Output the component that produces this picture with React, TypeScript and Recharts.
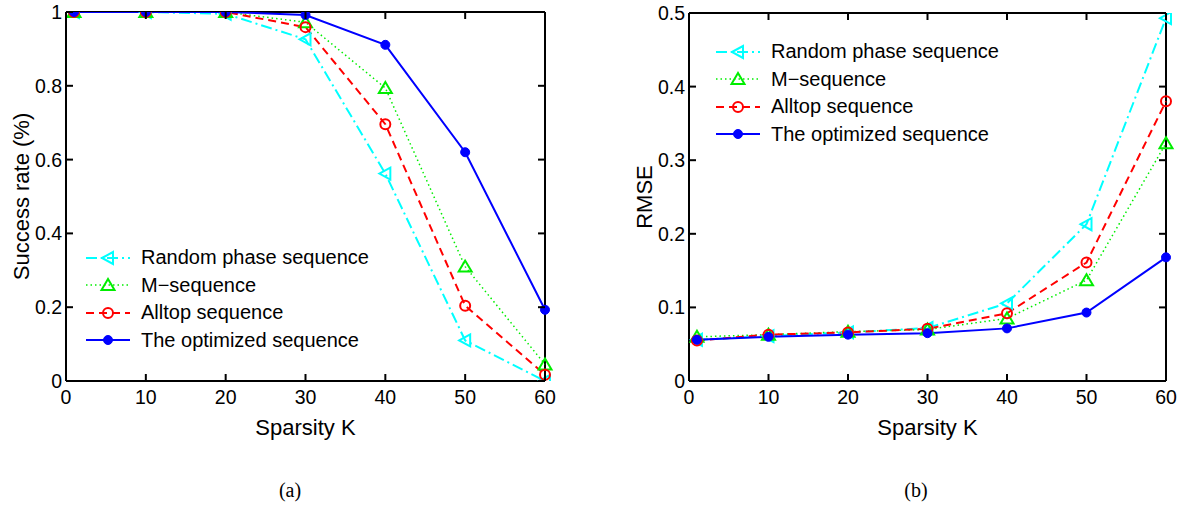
import React from 'react';
import { LineChart, Line, XAxis, YAxis, Legend, ReferenceLine } from 'recharts';

// Sparsity K on the x axis
const sparsity = [1, 10, 20, 30, 40, 50, 60];

// (a) success rate
const successRandom = [1, 1, 0.995, 0.926, 0.562, 0.11, 0];
const successMseq = [1, 1, 1, 0.972, 0.794, 0.31, 0.045];
const successAlltop = [1, 1, 1, 0.959, 0.696, 0.204, 0.017];
const successOptimized = [1, 1, 1, 0.992, 0.911, 0.62, 0.193];

// (b) RMSE
const rmseRandom = [0.056, 0.061, 0.066, 0.072, 0.1055, 0.213, 0.493];
const rmseMseq = [0.06, 0.063, 0.067, 0.07, 0.085, 0.137, 0.323];
const rmseAlltop = [0.055, 0.063, 0.066, 0.071, 0.092, 0.161, 0.38];
const rmseOptimized = [0.056, 0.06, 0.063, 0.065, 0.0715, 0.093, 0.168];

const xTicks = [0, 10, 20, 30, 40, 50, 60];
const xTickLabels = ['0', '10', '20', '30', '40', '50', '60'];
const successTicks = [0, 0.2, 0.4, 0.6, 0.8, 1];
const successTickLabels = ['0', '0.2', '0.4', '0.6', '0.8', '1'];
const rmseTicks = [0, 0.1, 0.2, 0.3, 0.4, 0.5];
const rmseTickLabels = ['0', '0.1', '0.2', '0.3', '0.4', '0.5'];

const seriesNames = ['Random phase sequence', 'M\u2212sequence', 'Alltop sequence', 'The optimized sequence'];

const SERIES = [
  { key: 'random', color: '#00ffff', dash: '11 4 2 4', width: 2, marker: 'left' },
  { key: 'mseq', color: '#00ee00', dash: '1.5 3', width: 1.5, marker: 'up' },
  { key: 'alltop', color: '#ff0000', dash: '8 5', width: 2, marker: 'circle' },
  { key: 'opt', color: '#0000ff', dash: undefined, width: 2, marker: 'dot' },
];

const FONT = '"Liberation Sans", Arial, Helvetica, sans-serif';

const buildRows = (cols: number[][]) =>
  sparsity.map((k, i) => ({
    k,
    random: cols[0][i],
    mseq: cols[1][i],
    alltop: cols[2][i],
    opt: cols[3][i],
  }));

const successData = buildRows([successRandom, successMseq, successAlltop, successOptimized]);
const rmseData = buildRows([rmseRandom, rmseMseq, rmseAlltop, rmseOptimized]);

function Marker({ kind, cx, cy, color }: any) {
  if (cx == null || cy == null) return <g />;
  if (kind === 'left')
    return (
      <polygon
        points={`${cx - 6},${cy} ${cx + 5},${cy - 6} ${cx + 5},${cy + 6}`}
        fill="none"
        stroke={color}
        strokeWidth={2}
      />
    );
  if (kind === 'up')
    return (
      <polygon
        points={`${cx},${cy - 6} ${cx - 6.5},${cy + 5} ${cx + 6.5},${cy + 5}`}
        fill="none"
        stroke={color}
        strokeWidth={2}
      />
    );
  if (kind === 'circle') return <circle cx={cx} cy={cy} r={5} fill="none" stroke={color} strokeWidth={2} />;
  return <circle cx={cx} cy={cy} r={4.5} fill={color} stroke={color} />;
}

// inward ticks on bottom + top edge, label below
const makeXTick = (plotH: number) => (p: any) => {
  const { x, y, index } = p;
  return (
    <g>
      <line x1={x} x2={x} y1={y} y2={y - 7} stroke="#000" strokeWidth={2} />
      <line x1={x} x2={x} y1={y - plotH} y2={y - plotH + 7} stroke="#000" strokeWidth={2} />
      <text x={x} y={y + 16} textAnchor="middle" dominantBaseline="central" fontSize={19.5} fontFamily={FONT} fill="#000">
        {xTickLabels[index]}
      </text>
    </g>
  );
};

// inward ticks on left + right edge, label on the left
const makeYTick = (plotW: number, labels: string[]) => (p: any) => {
  const { x, y, index } = p;
  return (
    <g>
      <line x1={x} x2={x + 7} y1={y} y2={y} stroke="#000" strokeWidth={2} />
      <line x1={x + plotW} x2={x + plotW - 7} y1={y} y2={y} stroke="#000" strokeWidth={2} />
      <text x={x - 4} y={y} textAnchor="end" dominantBaseline="central" fontSize={19.5} fontFamily={FONT} fill="#000">
        {labels[index]}
      </text>
    </g>
  );
};

function LegendBox(props: any) {
  const items = props.payload || [];
  return (
    <div style={{ fontFamily: FONT, fontSize: 20, color: '#000' }}>
      {SERIES.map((s, i) => {
        const item = items.find((d: any) => d.dataKey === s.key);
        return (
          <div key={s.key} style={{ display: 'flex', alignItems: 'center', height: 27.5, whiteSpace: 'nowrap' }}>
            <svg width={50} height={16} style={{ marginRight: 6 }}>
              <line x1={1} x2={45} y1={8} y2={8} stroke={s.color} strokeWidth={s.width} strokeDasharray={s.dash} />
              <Marker kind={s.marker} cx={23} cy={8} color={s.color} />
            </svg>
            <span>{item ? item.value : seriesNames[i]}</span>
          </div>
        );
      })}
    </div>
  );
}

function Panel({ data, width, height, margin, yAxisWidth, yDomain, yTicks, yLabels, yTitle, yTitleX, legendPos }: any) {
  const plotW = width - margin.left - margin.right - yAxisWidth;
  const plotH = height - margin.top - margin.bottom - 59;
  const plotLeft = margin.left + yAxisWidth;
  return (
    <LineChart width={width} height={height} data={data} margin={margin}>
      <XAxis
        dataKey="k"
        type="number"
        domain={[0, 60]}
        ticks={xTicks}
        height={59}
        axisLine={{ stroke: '#000', strokeWidth: 2 }}
        tickLine={false}
        tickSize={0}
        tickMargin={0}
        tick={makeXTick(plotH)}
        interval={0}
        label={() => (
          <text
            x={plotLeft + plotW / 2}
            y={margin.top + plotH + 46}
            textAnchor="middle"
            dominantBaseline="central"
            fontSize={22}
            fontFamily={FONT}
            fill="#000"
          >
            Sparsity K
          </text>
        )}
      />
      <YAxis
        type="number"
        domain={yDomain}
        ticks={yTicks}
        width={yAxisWidth}
        axisLine={{ stroke: '#000', strokeWidth: 2 }}
        tickLine={false}
        tickSize={0}
        tickMargin={0}
        tick={makeYTick(plotW, yLabels)}
        interval={0}
        allowDataOverflow
        label={() => (
          <text
            x={yTitleX}
            y={margin.top + plotH / 2}
            transform={`rotate(-90, ${yTitleX}, ${margin.top + plotH / 2})`}
            textAnchor="middle"
            dominantBaseline="central"
            fontSize={22}
            fontFamily={FONT}
            fill="#000"
          >
            {yTitle}
          </text>
        )}
      />
      <ReferenceLine y={yDomain[1]} stroke="#000" strokeWidth={2} />
      <ReferenceLine x={60} stroke="#000" strokeWidth={2} />
      {SERIES.map((s, i) => (
        <Line
          key={s.key}
          dataKey={s.key}
          name={seriesNames[i]}
          type="linear"
          stroke={s.color}
          strokeWidth={s.width}
          strokeDasharray={s.dash}
          isAnimationActive={false}
          dot={(p: any) => <Marker key={`${s.key}-${p.index}`} kind={s.marker} cx={p.cx} cy={p.cy} color={s.color} />}
          activeDot={false}
        />
      ))}
      <Legend
        layout="horizontal"
        verticalAlign="middle"
        align="center"
        content={<LegendBox />}
        wrapperStyle={{ left: legendPos.left, top: legendPos.top, width: 'auto', height: 'auto' }}
      />
    </LineChart>
  );
}

export default function App() {
  return (
    <div style={{ position: 'absolute', left: 0, top: 0, width: 1187, height: 506, background: '#fff' }}>
      <div style={{ position: 'absolute', left: 0, top: 0 }}>
        <Panel
          data={successData}
          width={560}
          height={440}
          margin={{ top: 12, right: 15, bottom: 0, left: 0 }}
          yAxisWidth={66}
          yDomain={[0, 1]}
          yTicks={successTicks}
          yLabels={successTickLabels}
          yTitle="Success rate (%)"
          yTitleX={21}
          legendPos={{ left: 85, top: 244 }}
        />
      </div>
      <div style={{ position: 'absolute', left: 600, top: 0 }}>
        <Panel
          data={rmseData}
          width={585}
          height={440}
          margin={{ top: 13, right: 19, bottom: 0, left: 0 }}
          yAxisWidth={89}
          yDomain={[0, 0.5]}
          yTicks={rmseTicks}
          yLabels={rmseTickLabels}
          yTitle="RMSE"
          yTitleX={44}
          legendPos={{ left: 115, top: 38 }}
        />
      </div>
      <div style={{ position: 'absolute', left: 240, width: 100, top: 479, textAlign: 'center', fontFamily: '"Liberation Serif", "Times New Roman", serif', fontSize: 20 }}>
        (a)
      </div>
      <div style={{ position: 'absolute', left: 866, width: 100, top: 479, textAlign: 'center', fontFamily: '"Liberation Serif", "Times New Roman", serif', fontSize: 20 }}>
        (b)
      </div>
    </div>
  );
}
